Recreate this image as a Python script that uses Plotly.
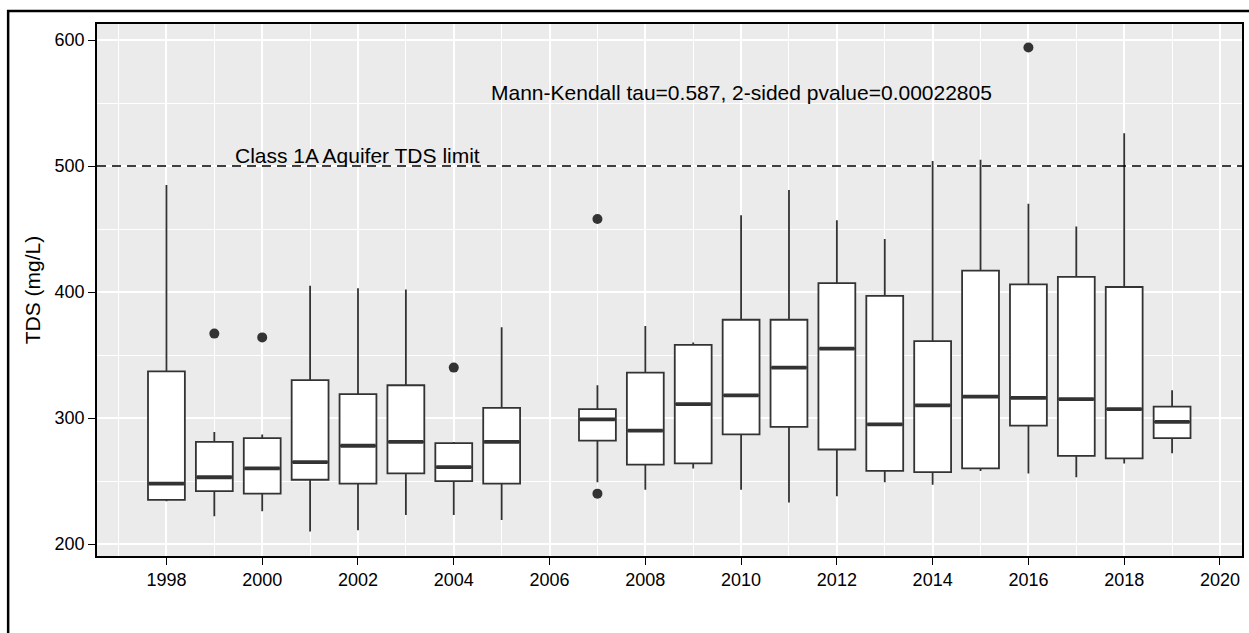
import plotly.graph_objects as go

years = [1998, 1999, 2000, 2001, 2002, 2003, 2004, 2005, 2007, 2008, 2009,
         2010, 2011, 2012, 2013, 2014, 2015, 2016, 2017, 2018, 2019]
lower_whisker = [234, 222, 226, 210, 211, 223, 223, 219, 249, 243, 260,
                 243, 233, 238, 249, 247, 258, 256, 253, 264, 272]
q1 = [235, 242, 240, 251, 248, 256, 250, 248, 282, 263, 264,
      287, 293, 275, 258, 257, 260, 294, 270, 268, 284]
median = [248, 253, 260, 265, 278, 281, 261, 281, 299, 290, 311,
          318, 340, 355, 295, 310, 317, 316, 315, 307, 297]
q3 = [337, 281, 284, 330, 319, 326, 280, 308, 307, 336, 358,
      378, 378, 407, 397, 361, 417, 406, 412, 404, 309]
upper_whisker = [485, 289, 287, 405, 403, 402, 281, 372, 326, 373, 360,
                 461, 481, 457, 442, 504, 505, 470, 452, 526, 322]

outlier_years = [1999, 2000, 2004, 2007, 2007, 2016]
outlier_values = [367, 364, 340, 240, 458, 594]

limit_value = 500
limit_label = "Class 1A Aquifer TDS limit"
mk_label = "Mann-Kendall tau=0.587, 2-sided pvalue=0.00022805"
y_title = "TDS (mg/L)"
x_ticks = list(range(1998, 2021, 2))
y_ticks = [200, 300, 400, 500, 600]

BOX_W = 0.77
DARK = "#333333"
FONT = "Liberation Sans, Arial, sans-serif"

fig = go.Figure()

fig.add_trace(go.Box(
    x=years, q1=q1, median=median, q3=q3,
    lowerfence=lower_whisker, upperfence=upper_whisker,
    width=BOX_W, whiskerwidth=0, boxpoints=False,
    fillcolor="white", line=dict(color=DARK, width=1.8),
    showlegend=False, hoverinfo="skip",
))

# thicker median bars (ggplot-style)
mx, my = [], []
for yr, m in zip(years, median):
    mx += [yr - BOX_W / 2 + 0.02, yr + BOX_W / 2 - 0.02, None]
    my += [m, m, None]
fig.add_trace(go.Scatter(x=mx, y=my, mode="lines",
                         line=dict(color=DARK, width=3.8),
                         showlegend=False, hoverinfo="skip"))

fig.add_trace(go.Scatter(x=outlier_years, y=outlier_values, mode="markers",
                         marker=dict(color=DARK, size=10),
                         showlegend=False, hoverinfo="skip"))

fig.add_shape(type="line", xref="paper", x0=0, x1=1, yref="y",
              y0=limit_value, y1=limit_value,
              line=dict(color="black", width=1.6, dash="9px,6px"))

fig.add_annotation(x=2002, y=508, text=limit_label, showarrow=False,
                   font=dict(size=21, color="black", family=FONT))
fig.add_annotation(x=2010, y=558, text=mk_label, showarrow=False,
                   font=dict(size=21, color="black", family=FONT))

# outer figure frame
fig.add_shape(type="rect", xref="paper", yref="paper",
              x0=-0.0776, x1=1.03, y0=-0.2, y1=1.0244,
              line=dict(color="black", width=2.5), fillcolor="rgba(0,0,0,0)",
              layer="above")

fig.update_layout(
    width=1249, height=633,
    margin=dict(l=97, r=5, t=24, b=77),
    paper_bgcolor="white", plot_bgcolor="#EBEBEB",
    font=dict(family=FONT, size=18, color="black"),
    showlegend=False,
    xaxis=dict(
        range=[1996.55, 2020.46], tickvals=x_ticks,
        showgrid=True, gridcolor="white", gridwidth=1.6,
        minor=dict(dtick=1, tick0=1997, showgrid=True, gridcolor="white", gridwidth=0.8),
        showline=True, linecolor="black", linewidth=1.5, mirror=True,
        ticks="outside", ticklen=7, tickcolor="black", tickwidth=1.3,
        zeroline=False, tickfont=dict(size=18, color="black"),
    ),
    yaxis=dict(
        range=[190.5, 612.7], tickvals=y_ticks,
        showgrid=True, gridcolor="white", gridwidth=1.6,
        minor=dict(dtick=50, tick0=150, showgrid=True, gridcolor="white", gridwidth=0.8),
        showline=True, linecolor="black", linewidth=1.5, mirror=True,
        ticks="outside", ticklen=7, tickcolor="black", tickwidth=1.3,
        zeroline=False, tickfont=dict(size=18, color="black"),
        title=dict(text=y_title, font=dict(size=21, color="black"), standoff=8),
    ),
)

fig.write_html("out.html")
